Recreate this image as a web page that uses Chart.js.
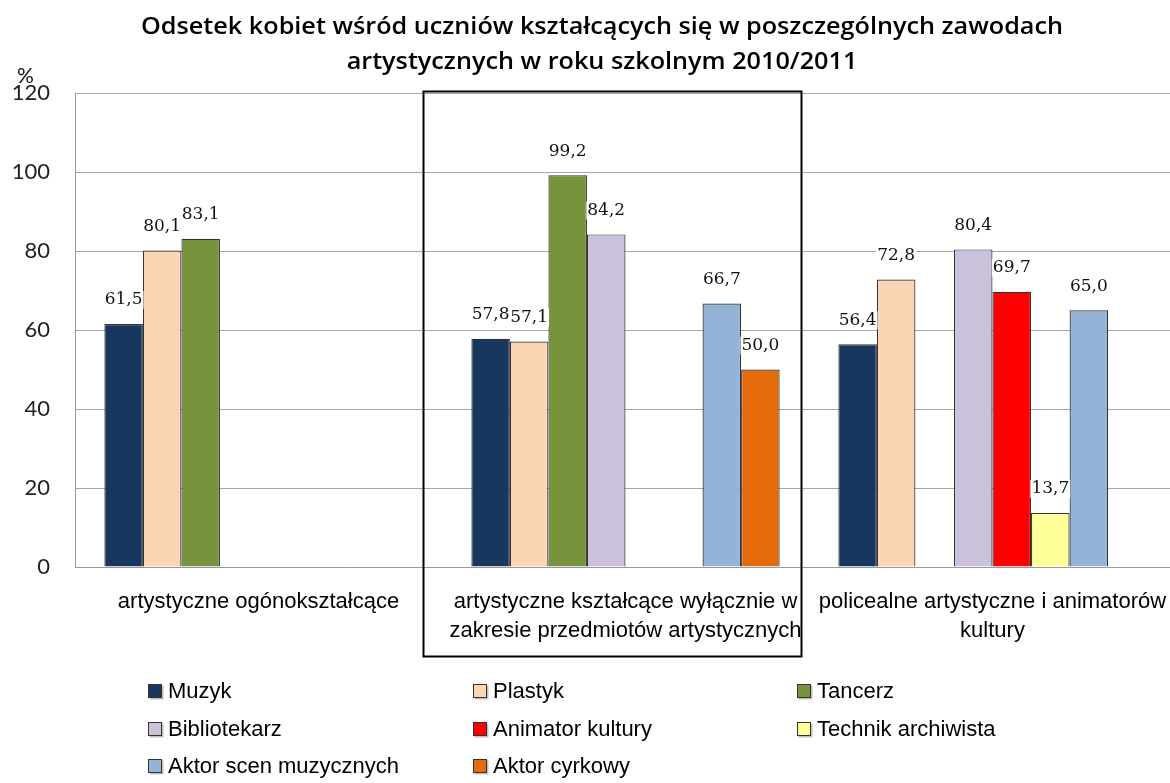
<!DOCTYPE html>
<html>
<head>
<meta charset="utf-8">
<script src="https://cdn.jsdelivr.net/npm/chart.js@4.4.1/dist/chart.umd.min.js"></script>
<style>
  html, body { margin: 0; padding: 0; background: #fff; overflow: hidden; }
  #wrap { position: relative; width: 1170px; height: 783px; overflow: hidden; }
  #c { position: absolute; left: 0; top: 0; }
</style>
</head>
<body>
<div id="wrap"><canvas id="c" width="1200" height="783"></canvas></div>
<script>
// School types (categories) and the share of girls per profession, in %
const categories = [
  'artystyczne ogónokształcące',
  ['artystyczne kształcące wyłącznie w', 'zakresie przedmiotów artystycznych'],
  ['policealne artystyczne i animatorów', 'kultury']
];
const muzyk        = [61.5, 57.8, 56.4];
const plastyk      = [80.1, 57.1, 72.8];
const tancerz      = [83.1, 99.2, null];
const bibliotekarz = [null, 84.2, 80.4];
const animator     = [null, null, 69.7];
const technik      = [null, null, 13.7];
const aktorScen    = [null, 66.7, 65.0];
const aktorCyrk    = [null, 50.0, null];
const yTicks = [0, 20, 40, 60, 80, 100, 120];

const titleLines = [
  'Odsetek kobiet wśród uczniów kształcących się w poszczególnych zawodach',
  'artystycznych w roku szkolnym 2010/2011'
];

const sansFont = '"Liberation Sans", Arial, sans-serif';

function series(label, data, color) {
  return {
    label, data,
    backgroundColor: color,
    borderColor: '#333',
    borderWidth: 1.2,
    borderSkipped: 'bottom',
    categoryPercentage: 0.84,
    barPercentage: 1.0
  };
}

const datasets = [
  series('Muzyk', muzyk, '#17375E'),
  series('Plastyk', plastyk, '#FCD5B5'),
  series('Tancerz', tancerz, '#77933C'),
  series('Bibliotekarz', bibliotekarz, '#CCC1DA'),
  series('Animator kultury', animator, '#FF0000'),
  series('Technik archiwista', technik, '#FFFF99'),
  series('Aktor scen muzycznych', aktorScen, '#95B3D7'),
  series('Aktor cyrkowy', aktorCyrk, '#E46C0A')
];

// two-line heading, slightly widened
const heading = {
  id: 'heading',
  afterDraw(chart) {
    const ctx = chart.ctx;
    ctx.save();
    ctx.font = '600 24px "Open Sans", sans-serif';
    ctx.fillStyle = '#000';
    ctx.textAlign = 'center';
    ctx.textBaseline = 'middle';
    const sx = 922 / ctx.measureText(titleLines[0]).width;
    const cx = 602;
    const ys = [27, 62];
    titleLines.forEach((t, i) => {
      ctx.save();
      ctx.translate(cx, ys[i]);
      ctx.scale(sx, 1);
      ctx.fillText(t, 0, 0);
      ctx.restore();
    });
    ctx.restore();
  }
};

// value labels above each bar, on a white backing
const valueLabels = {
  id: 'valueLabels',
  afterDatasetsDraw(chart) {
    const ctx = chart.ctx;
    ctx.save();
    ctx.font = '17px "DejaVu Serif", serif';
    ctx.textAlign = 'center';
    ctx.textBaseline = 'middle';
    const items = [];
    chart.data.datasets.forEach((ds, i) => {
      const meta = chart.getDatasetMeta(i);
      meta.data.forEach((bar, j) => {
        const v = ds.data[j];
        if (v == null) return;
        items.push({ txt: v.toFixed(1).replace('.', ','), x: bar.x, y: bar.y - 24 });
      });
    });
    ctx.fillStyle = '#fff';
    items.forEach(it => {
      const w = ctx.measureText(it.txt).width;
      ctx.fillRect(it.x - w / 2 - 1, it.y - 9, w + 2, 18);
    });
    ctx.fillStyle = '#111';
    items.forEach(it => ctx.fillText(it.txt, it.x, it.y));
    ctx.restore();
  }
};

// unit mark, frame around the middle group, and a three-column legend
const extras = {
  id: 'extras',
  afterDraw(chart) {
    const ctx = chart.ctx;
    const xs = chart.scales.x, ys = chart.scales.y;
    ctx.save();

    ctx.fillStyle = '#111';
    ctx.font = '21px Lato, sans-serif';
    ctx.textAlign = 'left';
    ctx.textBaseline = 'middle';
    ctx.fillText('%', 17, 76);

    const cx = xs.getPixelForValue(1);
    ctx.strokeStyle = '#000';
    ctx.lineWidth = 2;
    ctx.strokeRect(cx - 202, ys.getPixelForValue(120) - 1.5, 378, 565);

    const cols = [148, 473, 797];
    const rows = [691, 729, 766];
    ctx.font = '22px ' + sansFont;
    chart.data.datasets.forEach((ds, i) => {
      const x = cols[i % 3], y = rows[Math.floor(i / 3)];
      ctx.fillStyle = 'rgba(0,0,0,0.25)';
      ctx.fillRect(x + 1.5, y - 5.5, 14, 14);
      ctx.fillStyle = ds.backgroundColor;
      ctx.fillRect(x, y - 7, 14, 14);
      ctx.strokeStyle = '#333';
      ctx.lineWidth = 1;
      ctx.strokeRect(x + 0.5, y - 6.5, 13, 13);
      ctx.fillStyle = '#000';
      ctx.fillText(ds.label, x + 20, y + 1);
    });
    ctx.restore();
  }
};

new Chart(document.getElementById('c'), {
  type: 'bar',
  data: { labels: categories, datasets },
  plugins: [valueLabels, extras, heading],
  options: {
    responsive: false,
    animation: false,
    layout: { padding: { left: 0, right: 24, top: 93, bottom: 0 } },
    plugins: {
      legend: { display: false },
      tooltip: { enabled: false },
      title: { display: false }
    },
    scales: {
      x: {
        grid: { display: false, drawTicks: false },
        border: { color: '#999', width: 1 },
        ticks: {
          color: '#000',
          padding: 20,
          maxRotation: 0,
          autoSkip: false,
          font: { family: sansFont, size: 22, lineHeight: 1.32 }
        },
        afterFit(scale) { scale.height = 216; }
      },
      y: {
        min: 0, max: 120,
        afterBuildTicks(scale) { scale.ticks = yTicks.map(v => ({ value: v })); },
        grid: { color: '#a6a6a6', lineWidth: 1, drawTicks: false },
        border: { color: '#999', width: 1 },
        ticks: {
          color: '#222',
          padding: 25,
          font: { family: 'Lato, sans-serif', size: 22 }
        },
        afterFit(scale) { scale.width = 75; }
      }
    }
  }
});
</script>
</body>
</html>
